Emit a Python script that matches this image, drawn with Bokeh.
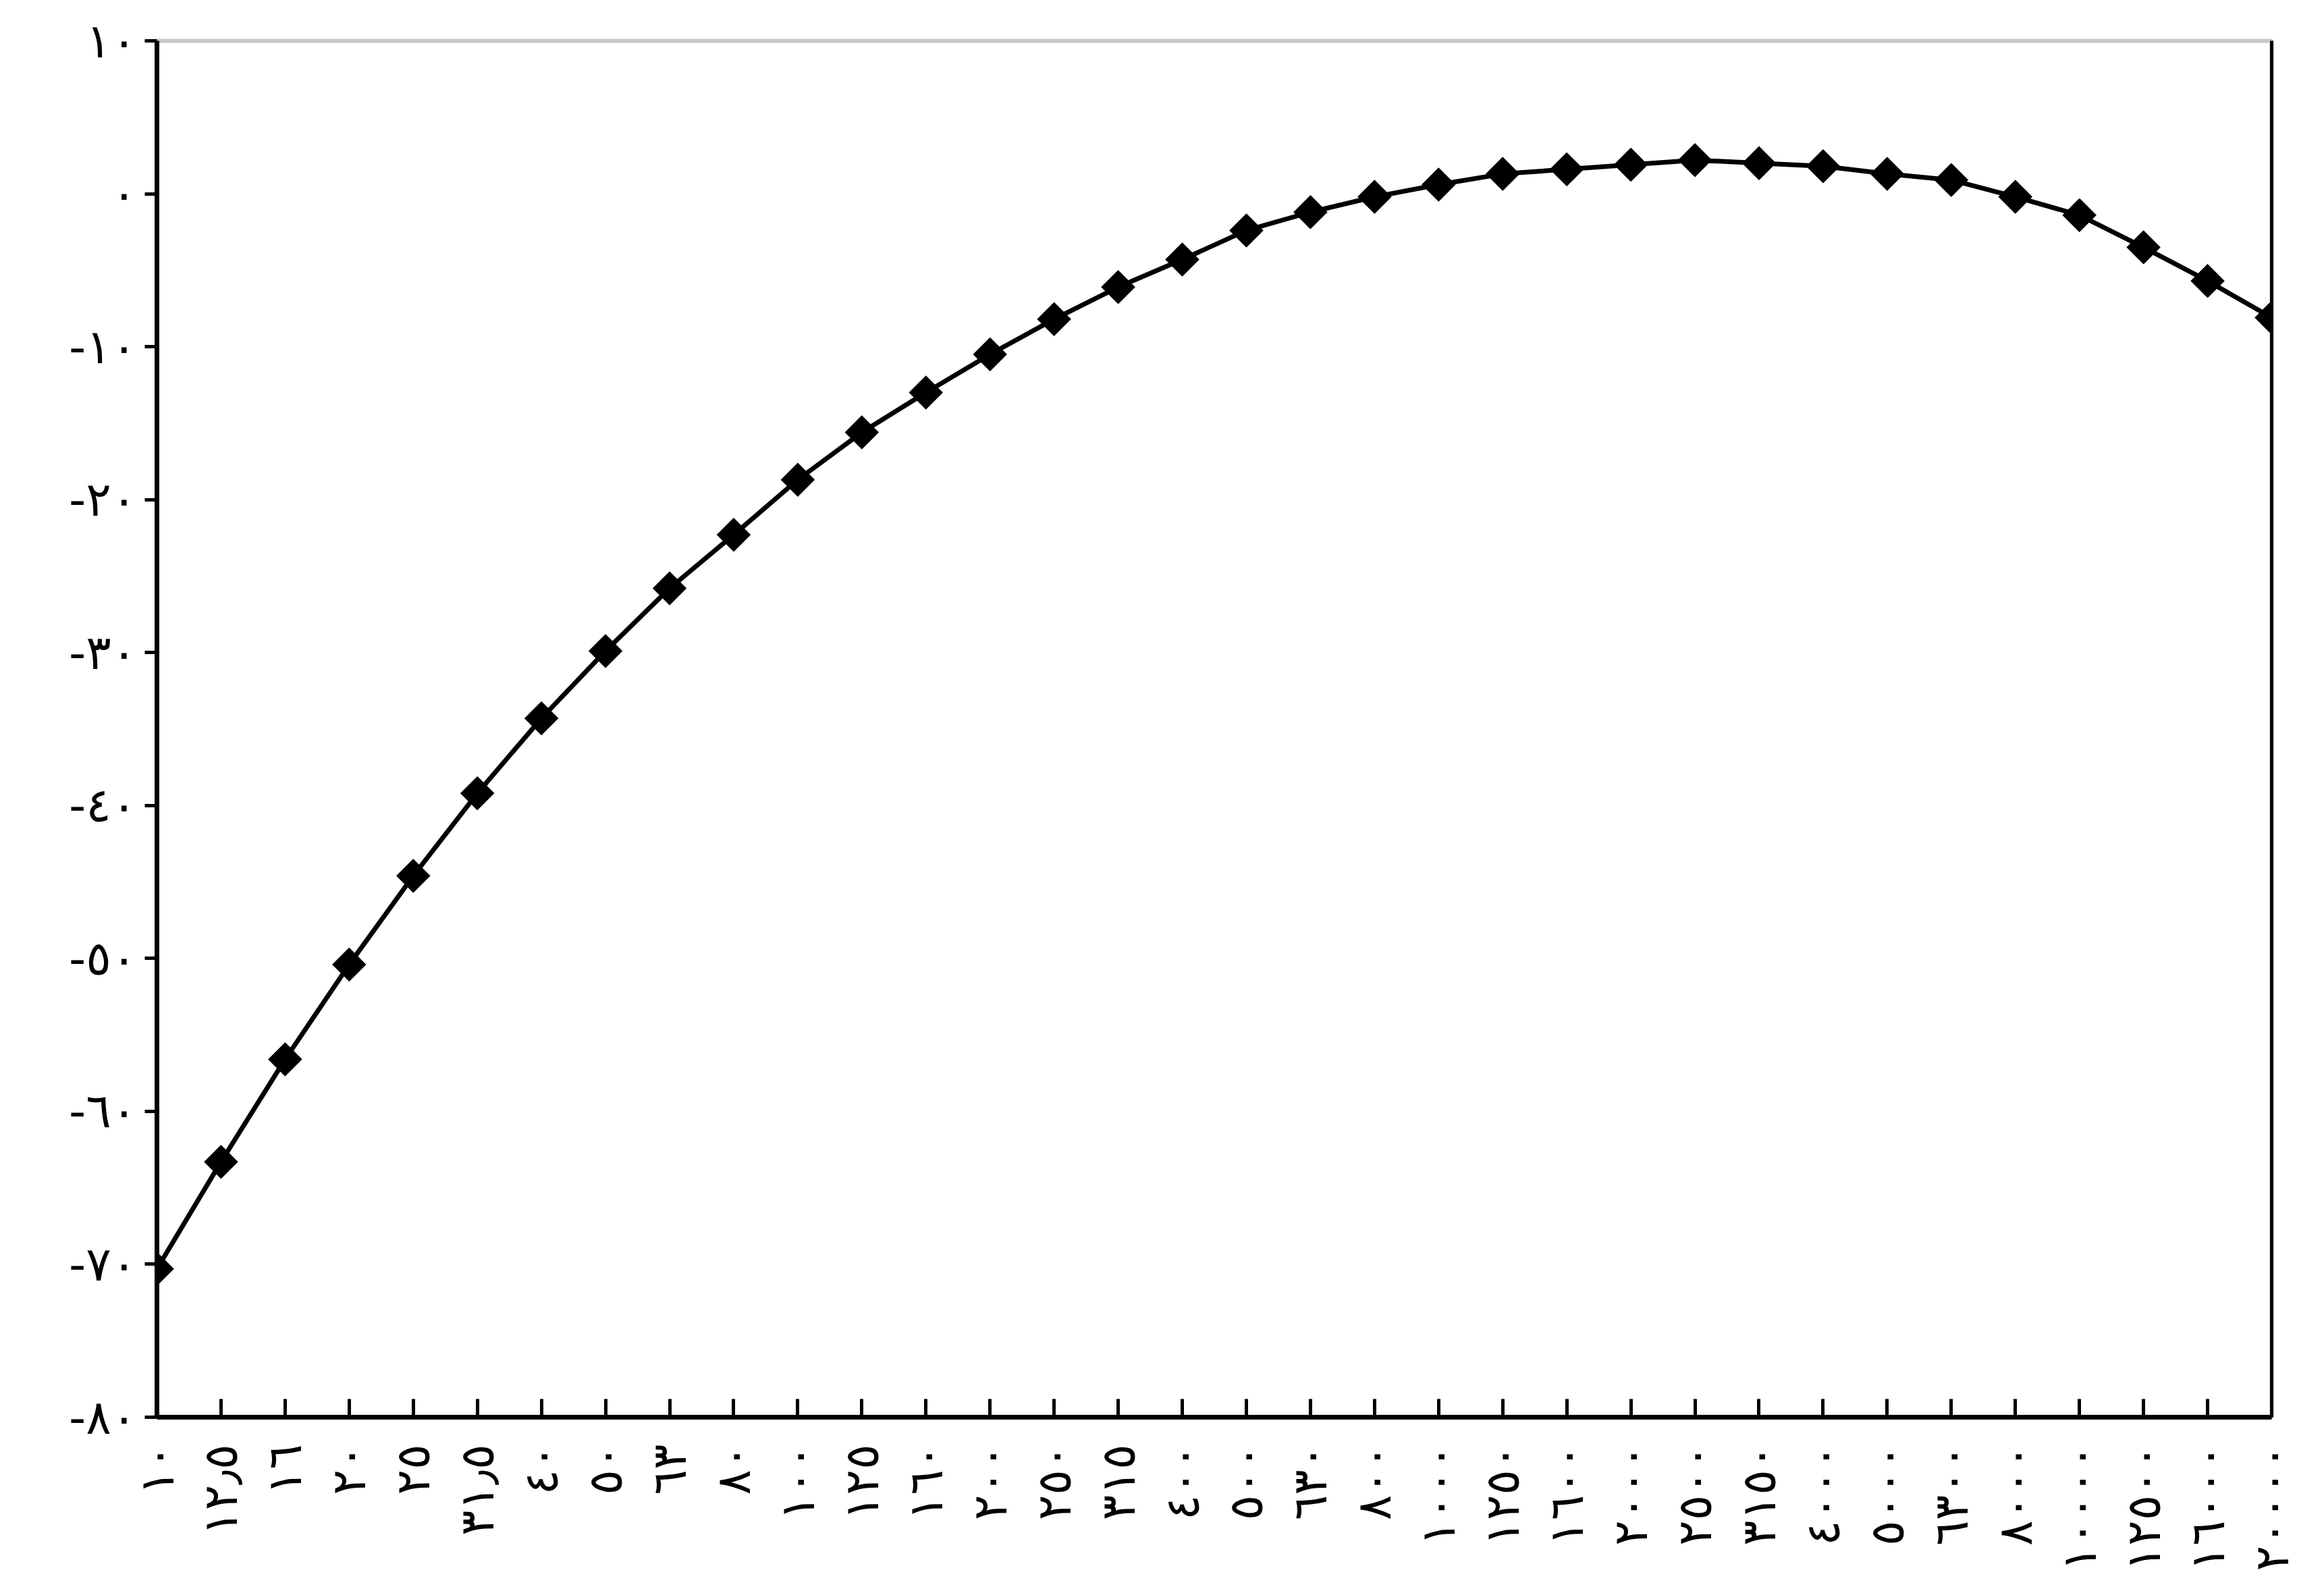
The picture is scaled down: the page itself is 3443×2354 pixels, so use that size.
from bokeh.plotting import figure
from bokeh.models import Range1d, FixedTicker, LinearAxis
from bokeh.embed import file_html
from bokeh.resources import INLINE

# 1/3-octave band centre frequencies (tick labels, Arabic-Indic digits)
freq_labels = ["١٠", "١٢٫٥", "١٦", "٢٠", "٢٥", "٣١٫٥", "٤٠", "٥٠", "٦٣", "٨٠",
               "١٠٠", "١٢٥", "١٦٠", "٢٠٠", "٢٥٠", "٣١٥", "٤٠٠", "٥٠٠", "٦٣٠", "٨٠٠",
               "١٠٠٠", "١٢٥٠", "١٦٠٠", "٢٠٠٠", "٢٥٠٠", "٣١٥٠", "٤٠٠٠", "٥٠٠٠", "٦٣٠٠", "٨٠٠٠",
               "١٠٠٠٠", "١٢٥٠٠", "١٦٠٠٠", "٢٠٠٠٠"]

# weighting values (dB)
values = [-70.3, -63.3, -56.6, -50.4, -44.6, -39.2, -34.3, -29.9, -25.8, -22.3,
          -18.7, -15.6, -13.0, -10.5, -8.2, -6.1, -4.3, -2.4, -1.2, -0.2,
          0.6, 1.3, 1.6, 1.9, 2.2, 2.0, 1.8, 1.3, 0.9, -0.2,
          -1.4, -3.5, -5.7, -8.1]

# y axis ticks and labels
y_ticks = [-80, -70, -60, -50, -40, -30, -20, -10, 0, 10]
y_labels = ["-٨٠", "-٧٠", "-٦٠", "-٥٠", "-٤٠", "-٣٠", "-٢٠", "-١٠", "٠", "١٠"]

x_idx = list(range(len(freq_labels)))

FONT = "DejaVu Sans"

p = figure(width=3420, height=2330, output_backend="svg", toolbar_location=None,
           x_range=Range1d(0, len(freq_labels) - 1), y_range=Range1d(-80, 10),
           min_border_left=232, min_border_right=55, min_border_top=60,
           min_border_bottom=215)

p.background_fill_color = "white"
p.border_fill_color = "white"
p.outline_line_color = "#c8c8c8"
p.outline_line_width = 6
p.xgrid.visible = False
p.ygrid.visible = False

p.line(x_idx, values, line_color="black", line_width=7)
p.scatter(x_idx, values, marker="square", angle=0.785398, size=35,
          fill_color="black", line_color="black")

xa = p.xaxis[0]
xa.ticker = FixedTicker(ticks=x_idx)
xa.major_label_overrides = {i: lab for i, lab in zip(x_idx, freq_labels)}
xa.major_label_orientation = 3.141592653589793 / 2
xa.major_label_text_font = FONT
xa.major_label_text_font_size = "70px"
xa.major_label_text_color = "black"
xa.major_label_standoff = 40
xa.axis_line_color = "black"
xa.axis_line_width = 7
xa.major_tick_in = 27
xa.major_tick_out = 0
xa.major_tick_line_color = "black"
xa.major_tick_line_width = 5
xa.minor_tick_line_color = None

ya = p.yaxis[0]
ya.ticker = FixedTicker(ticks=y_ticks)
ya.major_label_overrides = {t: lab for t, lab in zip(y_ticks, y_labels)}
ya.major_label_text_font = FONT
ya.major_label_text_font_size = "70px"
ya.major_label_text_color = "black"
ya.major_label_standoff = 12
ya.axis_line_color = "black"
ya.axis_line_width = 7
ya.major_tick_in = 0
ya.major_tick_out = 18
ya.major_tick_line_color = "black"
ya.major_tick_line_width = 5
ya.minor_tick_line_color = None

ra = LinearAxis(ticker=FixedTicker(ticks=[]), axis_line_color="black", axis_line_width=5,
                major_tick_line_color=None, minor_tick_line_color=None,
                major_label_text_font_size="0px")
p.add_layout(ra, "right")

open("out.html", "w").write(file_html(p, INLINE))
